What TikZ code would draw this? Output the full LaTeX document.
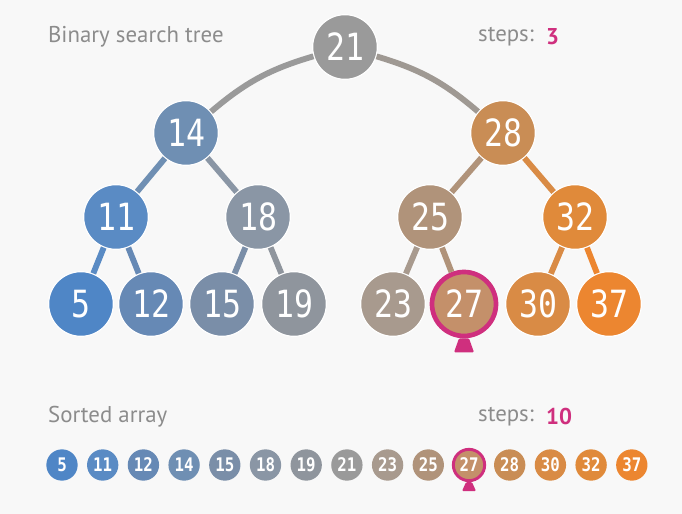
\documentclass[tikz,border=0pt]{standalone}
\usepackage{fontspec}
\setmainfont{PT Sans}
\newfontfamily\numfont[FakeStretch=0.84]{DejaVu Sans Mono}
\usetikzlibrary{positioning}
\definecolor{paper}{HTML}{F8F8F8}
\definecolor{caption}{HTML}{8C8C8C}
\definecolor{hit}{HTML}{CF2F7E}
\definecolor{c5}{HTML}{4F86C6}
\definecolor{c11}{HTML}{5A8BC4}
\definecolor{c12}{HTML}{6689B5}
\definecolor{c14}{HTML}{6F8FB3}
\definecolor{c15}{HTML}{7A8EA8}
\definecolor{c18}{HTML}{8A96A5}
\definecolor{c19}{HTML}{8F959D}
\definecolor{c21}{HTML}{9A9A9A}
\definecolor{c23}{HTML}{A89A8E}
\definecolor{c25}{HTML}{B0937A}
\definecolor{c27}{HTML}{C4906A}
\definecolor{c28}{HTML}{C98D55}
\definecolor{c30}{HTML}{D98B45}
\definecolor{c32}{HTML}{E08A3A}
\definecolor{c37}{HTML}{EC8630}
\tikzset{
  knot/.style={circle,fill=#1,draw=white,line width=1pt,minimum size=1.94cm,
    inner sep=0pt,text=white,font=\numfont\fontsize{32}{32}\selectfont},
  knot/.default=c21,
  cell/.style={circle,fill=#1,minimum size=0.94cm,inner sep=0pt,text=white,
    font=\numfont\bfseries\fontsize{16}{16}\selectfont},
  cell/.default=c21,
  twig/.style={line width=5pt,draw=#1},
  twig/.default=c21,
  title/.style={font=\fontsize{19.5}{19.5}\selectfont,text=caption,anchor=west},
  count/.style={font=\fontsize{19.5}{19.5}\selectfont\bfseries,text=hit,anchor=west},
  sel27/.style={draw=hit,line width=2.5pt},
}

\begin{document}
\begin{tikzpicture}[x=0.03cm,y=0.03cm]
  \fill[paper] (0,0) rectangle (682,-514);
  \useasboundingbox (0,0) rectangle (682,-514);

  % tree
  \node[knot=c21] (t21) at (345,-47) {21};
  \node[knot=c14] (t14) at (186,-133) {14};
  \node[knot=c28] (t28) at (503,-133) {28};
  \node[knot=c11] (t11) at (116,-217) {11};
  \node[knot=c18] (t18) at (258,-217) {18};
  \node[knot=c25] (t25) at (430,-217) {25};
  \node[knot=c32] (t32) at (575,-217) {32};
  \node[knot=c5]  (t5)  at (81,-304) {5};
  \node[knot=c12] (t12) at (151,-304) {12};
  \node[knot=c15] (t15) at (222,-304) {15};
  \node[knot=c19] (t19) at (294,-304) {19};
  \node[knot=c23] (t23) at (393,-304) {23};
  \node[knot=c27,draw=hit,line width=4pt,minimum size=1.92cm] (t27) at (464,-304) {27};
  \node[knot=c30] (t30) at (538,-304) {30};
  \node[knot=c37] (t37) at (609,-304) {37};

  \draw[twig=c21] (t21) to[bend right=12] (t14);
  \draw[twig=c21!90!c28] (t21) to[bend left=12] (t28);
  \draw[twig=c14] (t14) -- (t11);
  \draw[twig=c18] (t14) -- (t18);
  \draw[twig=c25] (t28) -- (t25);
  \draw[twig=c30] (t28) -- (t32);
  \draw[twig=c11] (t11) -- (t5);
  \draw[twig=c12] (t11) -- (t12);
  \draw[twig=c15] (t18) -- (t15);
  \draw[twig=c19] (t18) -- (t19);
  \draw[twig=c23] (t25) -- (t23);
  \draw[twig=c25] (t25) -- (t27);
  \draw[twig=c30] (t32) -- (t30);
  \draw[twig=c37] (t32) -- (t37);
  \fill[hit,rounded corners=1pt] ([xshift=-5*0.03cm]t27.south) -- ++(-5,-14)
    -- ++(20,0) -- ++(-5,14) -- cycle;

  % sorted array
  \foreach \v [count=\i from 0] in {5,11,12,14,15,18,19,21,23,25,27,28,30,32,37}
    \node[cell=c\v,sel\v/.try] (a\v) at (62+40.7*\i,-465) {\v};
  \fill[hit,rounded corners=1pt] ([xshift=-3*0.03cm]a27.south) -- ++(-4,-9)
    -- ++(14,0) -- ++(-4,9) -- cycle;

  % labels
  \node[title] (bst) at (44,-37) {Binary search tree};
  \node[title] (bststeps) at (474,-37) {steps:};
  \node[count] (bstn) at (542,-37) {3};
  \node[title] (arr) at (44,-417) {Sorted array};
  \node[title] (arrsteps) at (474,-417) {steps:};
  \node[count] (arrn) at (542,-417) {10};
\end{tikzpicture}
\end{document}
